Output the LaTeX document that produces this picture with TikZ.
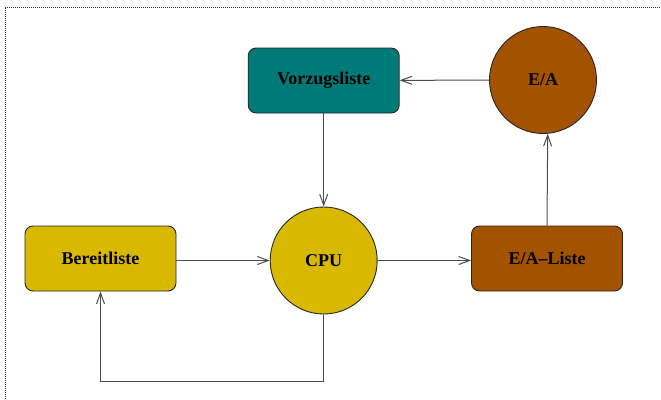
\documentclass[tikz,border=0pt]{standalone}
\usepackage{fontspec}
\setmainfont{Liberation Serif}
\usetikzlibrary{arrows.meta}
\definecolor{cyellow}{HTML}{D9B800}
\definecolor{cteal}{HTML}{007A78}
\definecolor{cbrown}{HTML}{A35200}
\begin{document}
\begin{tikzpicture}[x=1pt,y=-1pt,
  lbl/.style={font=\fontsize{18}{21}\selectfont\bfseries, text=black},
  box/.style={lbl, draw=black!85, line width=0.9pt, rounded corners=8pt,
    minimum width=151pt, minimum height=65pt, inner sep=0pt},
  circ/.style={lbl, circle, draw=black!85, line width=0.9pt,
    minimum size=107pt, inner sep=0pt},
  conn/.style={draw=black!70, line width=1pt,
    -{Straight Barb[length=11pt,width=8pt]}},
  frame/.style={draw=black!80, line width=0.7pt, dash pattern=on 1pt off 1pt}]
\useasboundingbox (0,0) rectangle (661,399);
\draw[frame] (5,399) -- (5,7) -- (661,7);
\node[box, fill=cteal] (vz) at (323.7,80.5) {Vorzugsliste};
\node[circ, fill=cbrown] (ea) at (543,80) {E/A};
\node[box, fill=cyellow] (bl) at (100.5,258.5) {Bereitliste};
\node[circ, fill=cyellow] (cpu) at (323.7,260.5) {CPU};
\node[box, fill=cbrown] (eal) at (547,258.5) {E/A–Liste};
\draw[conn] (ea) -- (vz);
\draw[conn] (vz) -- (cpu);
\draw[conn] (bl.east |- cpu) -- (cpu);
\draw[conn] (cpu) -- (cpu -| eal.west);
\draw[conn] (eal.north) -- (ea.-85.7);
\draw[conn] (cpu.south) -- ++(0,67.5) -| (bl.south);
\end{tikzpicture}
\end{document}
